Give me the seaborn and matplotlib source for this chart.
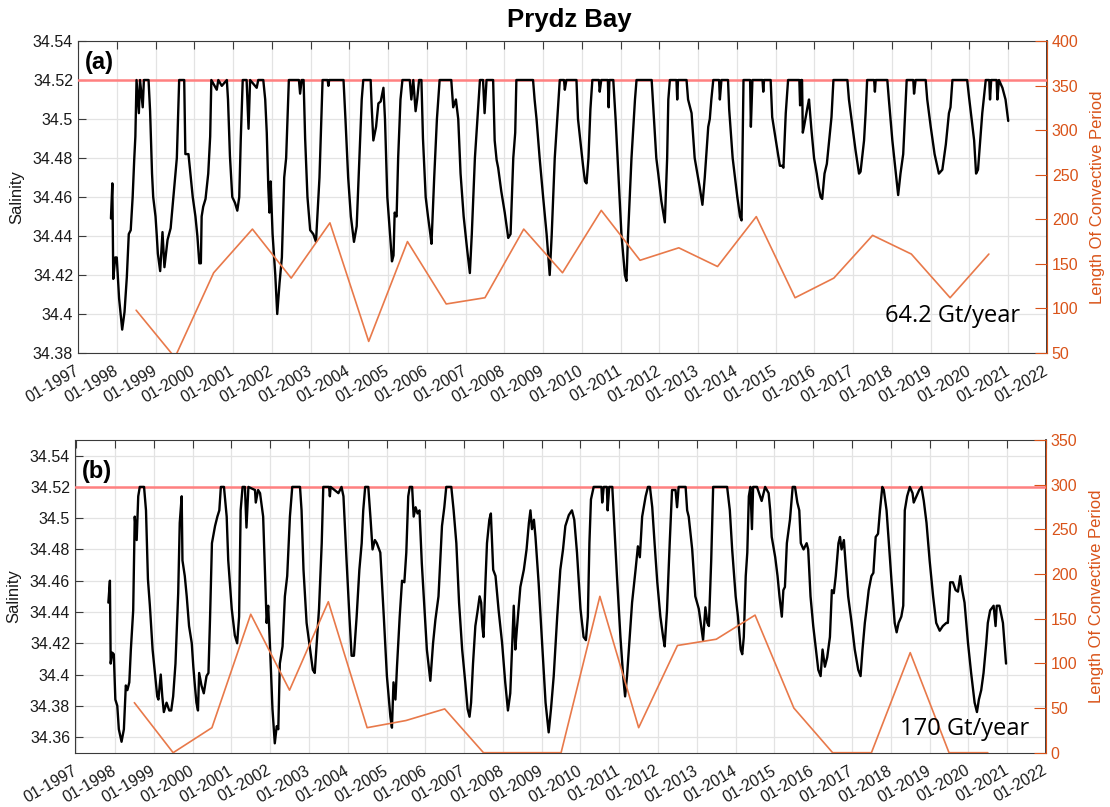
import numpy as np
import pandas as pd
import matplotlib
matplotlib.use("Agg")
import matplotlib.pyplot as plt
import seaborn as sns

# ---------------- data ----------------
tick_years = list(range(1997, 2023))
tick_labels = [f"01-{y}" for y in tick_years]

conv_year = [1998.5, 1999.5, 2000.5, 2001.5, 2002.5, 2003.5, 2004.5, 2005.5,
             2006.5, 2007.5, 2008.5, 2009.5, 2010.5, 2011.5, 2012.5, 2013.5,
             2014.5, 2015.5, 2016.5, 2017.5, 2018.5, 2019.5, 2020.5]
conv_a = [98, 45, 140, 189, 134, 196, 63, 175, 105, 112, 189, 140, 210, 154,
          168, 147, 203, 112, 134, 182, 161, 112, 161]
conv_b = [56, 0, 28, 155, 70, 169, 28, 36, 49, 0, 0, 0, 175, 28, 120, 127,
          154, 50, 0, 0, 112, 0, 0]

sal_a = [
    (1997.85, 34.449), (1997.886, 34.467), (1997.91, 34.418), (1997.96, 34.429), (1998.00, 34.429),
    (1998.06, 34.408), (1998.14, 34.392), (1998.20, 34.401), (1998.26, 34.419), (1998.31, 34.441),
    (1998.36, 34.443), (1998.41, 34.460), (1998.45, 34.479), (1998.48, 34.491), (1998.51, 34.520),
    (1998.57, 34.503), (1998.60, 34.520), (1998.67, 34.506), (1998.70, 34.520), (1998.82, 34.520),
    (1998.86, 34.504), (1998.91, 34.472), (1998.94, 34.460), (1999.00, 34.450), (1999.03, 34.441),
    (1999.06, 34.431), (1999.12, 34.422), (1999.18, 34.442), (1999.23, 34.424), (1999.31, 34.438),
    (1999.39, 34.444), (1999.46, 34.460), (1999.55, 34.480), (1999.61, 34.520), (1999.74, 34.520),
    (1999.77, 34.482), (1999.85, 34.482), (1999.89, 34.474), (1999.96, 34.460), (2000.03, 34.450),
    (2000.08, 34.440), (2000.13, 34.426), (2000.17, 34.426), (2000.19, 34.450), (2000.23, 34.455),
    (2000.29, 34.459), (2000.36, 34.472), (2000.41, 34.491), (2000.44, 34.520), (2000.58, 34.515),
    (2000.62, 34.520), (2000.71, 34.517), (2000.84, 34.520), (2000.87, 34.510), (2000.92, 34.481),
    (2000.98, 34.460), (2001.05, 34.457), (2001.11, 34.453), (2001.16, 34.460), (2001.20, 34.490),
    (2001.25, 34.520), (2001.35, 34.520), (2001.40, 34.495), (2001.44, 34.520), (2001.61, 34.516),
    (2001.65, 34.520), (2001.78, 34.520), (2001.83, 34.510), (2001.87, 34.493), (2001.91, 34.465),
    (2001.94, 34.452), (2001.97, 34.468), (2002.02, 34.441), (2002.09, 34.420), (2002.14, 34.400),
    (2002.20, 34.416), (2002.26, 34.429), (2002.32, 34.470), (2002.37, 34.480), (2002.44, 34.520),
    (2002.70, 34.520), (2002.73, 34.513), (2002.77, 34.520), (2002.82, 34.520), (2002.86, 34.490),
    (2002.92, 34.460), (2002.99, 34.443), (2003.07, 34.441), (2003.14, 34.437), (2003.23, 34.470),
    (2003.31, 34.520), (2003.44, 34.520), (2003.46, 34.517), (2003.48, 34.520), (2003.85, 34.520),
    (2003.90, 34.500), (2003.97, 34.470), (2004.04, 34.450), (2004.12, 34.437), (2004.19, 34.445),
    (2004.26, 34.480), (2004.32, 34.510), (2004.36, 34.520), (2004.55, 34.520), (2004.58, 34.505),
    (2004.62, 34.489), (2004.69, 34.496), (2004.75, 34.508), (2004.81, 34.509), (2004.88, 34.516),
    (2004.92, 34.500), (2004.98, 34.460), (2005.01, 34.452), (2005.05, 34.441), (2005.10, 34.427),
    (2005.14, 34.430), (2005.17, 34.452), (2005.22, 34.450), (2005.26, 34.480), (2005.32, 34.510),
    (2005.37, 34.520), (2005.56, 34.520), (2005.60, 34.510), (2005.65, 34.520), (2005.71, 34.504),
    (2005.75, 34.510), (2005.80, 34.520), (2005.86, 34.520), (2005.90, 34.490), (2005.97, 34.460),
    (2006.03, 34.450), (2006.09, 34.441), (2006.12, 34.436), (2006.19, 34.470), (2006.26, 34.500),
    (2006.33, 34.520), (2006.63, 34.520), (2006.68, 34.506), (2006.75, 34.510), (2006.81, 34.500),
    (2006.87, 34.472), (2006.95, 34.450), (2007.04, 34.433), (2007.11, 34.421), (2007.16, 34.441),
    (2007.24, 34.480), (2007.37, 34.520), (2007.45, 34.520), (2007.49, 34.503), (2007.54, 34.520),
    (2007.71, 34.520), (2007.75, 34.489), (2007.80, 34.479), (2007.84, 34.475), (2007.92, 34.463),
    (2008.01, 34.452), (2008.10, 34.439), (2008.16, 34.441), (2008.23, 34.480), (2008.28, 34.493),
    (2008.31, 34.520), (2008.74, 34.520), (2008.78, 34.510), (2008.83, 34.500), (2008.91, 34.480),
    (2009.00, 34.460), (2009.09, 34.441), (2009.17, 34.420), (2009.22, 34.440), (2009.30, 34.480),
    (2009.43, 34.520), (2009.54, 34.520), (2009.56, 34.515), (2009.60, 34.520), (2009.86, 34.520),
    (2009.90, 34.500), (2009.97, 34.487), (2010.03, 34.476), (2010.08, 34.468), (2010.12, 34.467),
    (2010.17, 34.480), (2010.22, 34.505), (2010.27, 34.520), (2010.44, 34.520), (2010.46, 34.514),
    (2010.50, 34.520), (2010.67, 34.520), (2010.69, 34.506), (2010.71, 34.520), (2010.81, 34.520),
    (2010.87, 34.500), (2010.94, 34.472), (2011.02, 34.441), (2011.11, 34.420), (2011.15, 34.417),
    (2011.19, 34.440), (2011.28, 34.480), (2011.37, 34.510), (2011.41, 34.520), (2011.80, 34.520),
    (2011.86, 34.500), (2011.92, 34.480), (2011.97, 34.472), (2012.05, 34.458), (2012.14, 34.447),
    (2012.20, 34.480), (2012.23, 34.510), (2012.27, 34.520), (2012.44, 34.520), (2012.46, 34.510),
    (2012.48, 34.520), (2012.70, 34.520), (2012.74, 34.510), (2012.83, 34.503), (2012.91, 34.480),
    (2013.04, 34.465), (2013.11, 34.456), (2013.17, 34.470), (2013.26, 34.496), (2013.30, 34.500),
    (2013.34, 34.510), (2013.39, 34.520), (2013.54, 34.520), (2013.56, 34.510), (2013.60, 34.520),
    (2013.77, 34.520), (2013.80, 34.505), (2013.89, 34.480), (2014.01, 34.460), (2014.08, 34.450),
    (2014.12, 34.448), (2014.17, 34.520), (2014.34, 34.520), (2014.36, 34.496), (2014.40, 34.520),
    (2014.66, 34.520), (2014.68, 34.514), (2014.70, 34.520), (2014.87, 34.520), (2014.91, 34.501),
    (2014.98, 34.492), (2015.06, 34.482), (2015.11, 34.476), (2015.17, 34.476), (2015.20, 34.475),
    (2015.26, 34.503), (2015.32, 34.520), (2015.61, 34.520), (2015.63, 34.507), (2015.66, 34.520),
    (2015.68, 34.520), (2015.70, 34.493), (2015.73, 34.496), (2015.82, 34.506), (2015.86, 34.510),
    (2015.92, 34.495), (2015.99, 34.480), (2016.06, 34.472), (2016.11, 34.465), (2016.16, 34.460),
    (2016.20, 34.459), (2016.26, 34.472), (2016.32, 34.477), (2016.38, 34.489), (2016.44, 34.501),
    (2016.49, 34.520), (2016.85, 34.520), (2016.89, 34.510), (2016.98, 34.496), (2017.06, 34.484),
    (2017.15, 34.472), (2017.19, 34.473), (2017.28, 34.489), (2017.32, 34.503), (2017.36, 34.520),
    (2017.54, 34.520), (2017.56, 34.514), (2017.58, 34.520), (2017.88, 34.520), (2017.92, 34.510),
    (2018.01, 34.489), (2018.10, 34.472), (2018.16, 34.461), (2018.22, 34.472), (2018.29, 34.482),
    (2018.34, 34.503), (2018.38, 34.520), (2018.55, 34.520), (2018.57, 34.513), (2018.61, 34.520),
    (2018.87, 34.520), (2018.91, 34.510), (2019.00, 34.496), (2019.10, 34.482), (2019.21, 34.472),
    (2019.30, 34.474), (2019.39, 34.487), (2019.47, 34.503), (2019.51, 34.506), (2019.56, 34.520),
    (2019.94, 34.520), (2019.99, 34.511), (2020.05, 34.501), (2020.12, 34.489), (2020.17, 34.472),
    (2020.22, 34.474), (2020.29, 34.492), (2020.33, 34.503), (2020.42, 34.520), (2020.51, 34.520),
    (2020.53, 34.510), (2020.56, 34.520), (2020.70, 34.520), (2020.72, 34.510), (2020.76, 34.520),
    (2020.85, 34.516), (2020.93, 34.510), (2021.00, 34.499),
]

sal_b = [
    (1997.83, 34.446), (1997.87, 34.460), (1997.89, 34.407), (1997.93, 34.414), (1997.97, 34.413),
    (1998.01, 34.384), (1998.06, 34.380), (1998.10, 34.365), (1998.17, 34.357), (1998.23, 34.365),
    (1998.28, 34.393), (1998.32, 34.390), (1998.37, 34.395), (1998.41, 34.416), (1998.47, 34.441),
    (1998.51, 34.501), (1998.56, 34.486), (1998.60, 34.514), (1998.64, 34.520), (1998.75, 34.520),
    (1998.80, 34.505), (1998.85, 34.461), (1998.90, 34.444), (1998.97, 34.416), (1999.03, 34.401),
    (1999.09, 34.386), (1999.12, 34.384), (1999.18, 34.400), (1999.22, 34.386), (1999.26, 34.376),
    (1999.33, 34.382), (1999.40, 34.377), (1999.45, 34.377), (1999.50, 34.386), (1999.56, 34.407),
    (1999.63, 34.452), (1999.67, 34.497), (1999.72, 34.514), (1999.74, 34.473), (1999.80, 34.463),
    (1999.85, 34.450), (1999.91, 34.431), (1999.98, 34.420), (2000.02, 34.405), (2000.06, 34.393),
    (2000.10, 34.382), (2000.14, 34.377), (2000.17, 34.401), (2000.23, 34.393), (2000.29, 34.388),
    (2000.36, 34.399), (2000.41, 34.401), (2000.45, 34.435), (2000.50, 34.484), (2000.58, 34.495),
    (2000.64, 34.501), (2000.69, 34.505), (2000.73, 34.520), (2000.81, 34.520), (2000.88, 34.501),
    (2000.92, 34.473), (2001.01, 34.442), (2001.09, 34.425), (2001.15, 34.420), (2001.20, 34.437),
    (2001.24, 34.505), (2001.29, 34.520), (2001.35, 34.520), (2001.39, 34.494), (2001.44, 34.520),
    (2001.61, 34.518), (2001.63, 34.510), (2001.69, 34.518), (2001.74, 34.516), (2001.82, 34.501),
    (2001.87, 34.463), (2001.91, 34.433), (2001.95, 34.444), (2002.00, 34.416), (2002.06, 34.378),
    (2002.12, 34.356), (2002.17, 34.367), (2002.21, 34.365), (2002.25, 34.407), (2002.32, 34.418),
    (2002.38, 34.450), (2002.44, 34.463), (2002.51, 34.501), (2002.57, 34.520), (2002.77, 34.520),
    (2002.81, 34.505), (2002.86, 34.467), (2002.94, 34.433), (2003.03, 34.416), (2003.10, 34.403),
    (2003.15, 34.401), (2003.20, 34.420), (2003.26, 34.442), (2003.33, 34.484), (2003.37, 34.520),
    (2003.52, 34.520), (2003.54, 34.514), (2003.56, 34.520), (2003.76, 34.516), (2003.84, 34.520),
    (2003.89, 34.514), (2003.97, 34.473), (2004.04, 34.439), (2004.10, 34.412), (2004.16, 34.412),
    (2004.23, 34.437), (2004.30, 34.467), (2004.36, 34.484), (2004.40, 34.505), (2004.45, 34.520),
    (2004.53, 34.520), (2004.59, 34.499), (2004.64, 34.480), (2004.70, 34.486), (2004.75, 34.484),
    (2004.84, 34.478), (2004.93, 34.437), (2005.01, 34.399), (2005.10, 34.373), (2005.14, 34.366),
    (2005.18, 34.395), (2005.23, 34.384), (2005.27, 34.405), (2005.34, 34.437), (2005.40, 34.460),
    (2005.46, 34.459), (2005.51, 34.478), (2005.56, 34.514), (2005.60, 34.520), (2005.66, 34.520),
    (2005.70, 34.501), (2005.75, 34.507), (2005.80, 34.503), (2005.85, 34.505), (2005.91, 34.471),
    (2005.98, 34.441), (2006.04, 34.416), (2006.13, 34.396), (2006.20, 34.420), (2006.26, 34.435),
    (2006.34, 34.450), (2006.43, 34.495), (2006.49, 34.507), (2006.54, 34.520), (2006.67, 34.520),
    (2006.73, 34.505), (2006.80, 34.484), (2006.87, 34.446), (2006.95, 34.416), (2007.03, 34.395),
    (2007.09, 34.378), (2007.14, 34.373), (2007.18, 34.382), (2007.23, 34.407), (2007.29, 34.431),
    (2007.35, 34.441), (2007.40, 34.450), (2007.44, 34.446), (2007.47, 34.431), (2007.50, 34.424),
    (2007.55, 34.459), (2007.59, 34.484), (2007.65, 34.499), (2007.69, 34.503), (2007.75, 34.467),
    (2007.81, 34.463), (2007.89, 34.441), (2007.98, 34.420), (2008.06, 34.395), (2008.13, 34.377),
    (2008.19, 34.388), (2008.24, 34.420), (2008.28, 34.444), (2008.32, 34.416), (2008.36, 34.429),
    (2008.45, 34.456), (2008.54, 34.467), (2008.61, 34.480), (2008.67, 34.497), (2008.71, 34.505),
    (2008.75, 34.493), (2008.80, 34.499), (2008.84, 34.488), (2008.92, 34.459), (2009.01, 34.420),
    (2009.10, 34.382), (2009.18, 34.363), (2009.24, 34.378), (2009.31, 34.399), (2009.40, 34.437),
    (2009.48, 34.467), (2009.55, 34.480), (2009.61, 34.495), (2009.70, 34.502), (2009.78, 34.505),
    (2009.84, 34.499), (2009.91, 34.478), (2010.00, 34.442), (2010.08, 34.424), (2010.14, 34.422),
    (2010.19, 34.437), (2010.23, 34.484), (2010.27, 34.512), (2010.34, 34.520), (2010.54, 34.520),
    (2010.56, 34.510), (2010.60, 34.520), (2010.68, 34.520), (2010.70, 34.505), (2010.74, 34.520),
    (2010.82, 34.520), (2010.86, 34.501), (2010.94, 34.463), (2011.03, 34.424), (2011.10, 34.399),
    (2011.15, 34.386), (2011.20, 34.399), (2011.27, 34.424), (2011.33, 34.446), (2011.42, 34.467),
    (2011.48, 34.482), (2011.53, 34.475), (2011.59, 34.501), (2011.68, 34.514), (2011.74, 34.520),
    (2011.79, 34.520), (2011.85, 34.507), (2011.91, 34.484), (2011.98, 34.459), (2012.06, 34.437),
    (2012.13, 34.424), (2012.17, 34.418), (2012.23, 34.441), (2012.30, 34.484), (2012.36, 34.518),
    (2012.45, 34.518), (2012.49, 34.507), (2012.53, 34.520), (2012.71, 34.520), (2012.75, 34.505),
    (2012.79, 34.501), (2012.88, 34.480), (2012.96, 34.450), (2013.05, 34.442), (2013.11, 34.431),
    (2013.16, 34.422), (2013.22, 34.443), (2013.27, 34.433), (2013.31, 34.431), (2013.37, 34.473),
    (2013.42, 34.520), (2013.78, 34.520), (2013.85, 34.505), (2013.91, 34.480), (2014.00, 34.450),
    (2014.06, 34.437), (2014.13, 34.416), (2014.17, 34.413), (2014.21, 34.424), (2014.26, 34.463),
    (2014.30, 34.478), (2014.34, 34.514), (2014.38, 34.520), (2014.42, 34.493), (2014.45, 34.520),
    (2014.55, 34.520), (2014.67, 34.511), (2014.76, 34.520), (2014.85, 34.516), (2014.89, 34.505),
    (2014.93, 34.488), (2015.02, 34.475), (2015.08, 34.463), (2015.13, 34.450), (2015.19, 34.437),
    (2015.23, 34.454), (2015.27, 34.456), (2015.32, 34.484), (2015.40, 34.499), (2015.47, 34.520),
    (2015.53, 34.520), (2015.59, 34.510), (2015.64, 34.505), (2015.68, 34.484), (2015.75, 34.480),
    (2015.83, 34.484), (2015.87, 34.480), (2015.93, 34.450), (2016.00, 34.431), (2016.07, 34.416),
    (2016.13, 34.403), (2016.19, 34.399), (2016.24, 34.416), (2016.30, 34.405), (2016.36, 34.411),
    (2016.43, 34.424), (2016.48, 34.454), (2016.53, 34.452), (2016.58, 34.463), (2016.65, 34.484),
    (2016.69, 34.488), (2016.73, 34.480), (2016.79, 34.486), (2016.84, 34.469), (2016.90, 34.450),
    (2016.99, 34.433), (2017.07, 34.416), (2017.16, 34.403), (2017.22, 34.399), (2017.27, 34.416),
    (2017.33, 34.433), (2017.37, 34.441), (2017.43, 34.454), (2017.50, 34.463), (2017.55, 34.465),
    (2017.61, 34.488), (2017.67, 34.490), (2017.72, 34.505), (2017.78, 34.520), (2017.82, 34.518),
    (2017.89, 34.505), (2017.96, 34.480), (2018.02, 34.459), (2018.10, 34.433), (2018.15, 34.427),
    (2018.20, 34.433), (2018.27, 34.437), (2018.32, 34.444), (2018.36, 34.505), (2018.42, 34.514),
    (2018.49, 34.520), (2018.56, 34.516), (2018.59, 34.510), (2018.66, 34.514), (2018.73, 34.518),
    (2018.79, 34.520), (2018.85, 34.511), (2018.92, 34.497), (2019.00, 34.473), (2019.09, 34.450),
    (2019.17, 34.433), (2019.26, 34.428), (2019.34, 34.431), (2019.43, 34.433), (2019.47, 34.433),
    (2019.53, 34.459), (2019.60, 34.459), (2019.67, 34.454), (2019.73, 34.453), (2019.79, 34.463),
    (2019.84, 34.454), (2019.90, 34.446), (2019.99, 34.420), (2020.07, 34.401), (2020.16, 34.382),
    (2020.22, 34.376), (2020.27, 34.384), (2020.33, 34.390), (2020.39, 34.401), (2020.46, 34.420),
    (2020.50, 34.433), (2020.56, 34.441), (2020.65, 34.444), (2020.70, 34.431), (2020.73, 34.444),
    (2020.80, 34.444), (2020.89, 34.433), (2020.97, 34.407),
]

threshold = 34.52
rate_a = "64.2 Gt/year"
rate_b = "170 Gt/year"

# ---------------- style ----------------
sns.set_theme(style="white")
plt.rcParams["font.family"] = ["Liberation Sans", "DejaVu Sans"]

ORANGE = "#D95319"
ORANGE_LINE = "#E8794A"
SPINE = "#3a3a3a"
GRID = "#e3e3e3"
TXT = "#1a1a1a"
FS = 11.5

fig = plt.figure(figsize=(11.1, 8.07), dpi=100)
W, H = 1110, 807


def fmt_left(v):
    return f"{v:.2f}".rstrip("0").rstrip(".")


def panel(rect, sal, conv, xlim, ylim, lticks, rylim, rticks, letter, letter_y,
          rate, rate_x, rate_y):
    ax = fig.add_axes(rect)
    df = pd.DataFrame(sal, columns=["year", "salinity"])
    ax.axhline(threshold, color=(1.0, 0.5, 0.5), lw=1.8, zorder=3)
    sns.lineplot(data=df, x="year", y="salinity", ax=ax, color="black", lw=1.7,
                 sort=False, estimator=None, zorder=4)
    ax.set_xlim(*xlim)
    ax.set_ylim(*ylim)
    ax.set_yticks(lticks)
    ax.set_yticklabels([fmt_left(v) for v in lticks], fontsize=FS, color=TXT)
    ax.set_xticks(tick_years)
    ax.set_xticklabels(tick_labels, rotation=30, ha="right", va="center",
                       rotation_mode="anchor", fontsize=FS, color=TXT)
    ax.grid(True, color=GRID, lw=0.9)
    ax.set_axisbelow(True)
    ax.tick_params(axis="both", direction="in", length=6, width=0.8, colors=SPINE,
                   top=True, right=False, labelcolor=TXT)
    ax.tick_params(axis="x", pad=12)
    ax.set_xlabel("")
    ax.set_ylabel("Salinity", fontsize=12, color=TXT, labelpad=6)
    for s in ["left", "bottom", "top"]:
        ax.spines[s].set_color(SPINE)
        ax.spines[s].set_linewidth(0.8)
        ax.spines[s].set_visible(True)

    axr = ax.twinx()
    sns.lineplot(x=conv_year, y=conv, ax=axr, color=ORANGE_LINE, lw=1.2,
                 sort=False, estimator=None)
    axr.set_ylim(*rylim)
    axr.set_yticks(rticks)
    axr.set_yticklabels([str(t) for t in rticks], fontsize=FS, color=ORANGE)
    axr.tick_params(axis="y", direction="in", length=9, width=0.8, colors=ORANGE)
    axr.set_ylabel("Length Of Convective Period", fontsize=12, color=ORANGE, labelpad=8)
    axr.spines["right"].set_color(ORANGE)
    axr.spines["right"].set_linewidth(0.8)
    for s in ["left", "bottom", "top"]:
        axr.spines[s].set_visible(False)
    axr.grid(False)

    ax.text(0.007, letter_y, letter, transform=ax.transAxes,
            fontsize=17, fontweight="bold", ha="left", va="center", color="black")
    axr.text(rate_x, rate_y, rate, transform=ax.transAxes,
             fontsize=17, ha="right", va="center", color="black",
             family=["Open Sans", "DejaVu Sans"])
    return ax, axr


panel([78 / W, 1 - 353 / H, (1047 - 78) / W, (353 - 41) / H], sal_a, conv_a,
      (1997.0, 2022.0), (34.38, 34.54),
      [34.38, 34.40, 34.42, 34.44, 34.46, 34.48, 34.50, 34.52, 34.54],
      (50, 400), [50, 100, 150, 200, 250, 300, 350, 400],
      "(a)", 0.93, rate_a, 0.972, 0.12)
panel([75 / W, 1 - 752.7 / H, (1046 - 75) / W, (752.7 - 440) / H], sal_b, conv_b,
      (1996.97, 2022.0), (34.35, 34.55),
      [34.36, 34.38, 34.40, 34.42, 34.44, 34.46, 34.48, 34.50, 34.52, 34.54],
      (0, 350), [0, 50, 100, 150, 200, 250, 300, 350],
      "(b)", 0.90, rate_b, 0.983, 0.075)

fig.text(569 / W, 1 - 20 / H, "Prydz Bay", ha="center", va="center",
         fontsize=18.5, fontweight="bold", color="black")

fig.savefig("out.png", dpi=100)
